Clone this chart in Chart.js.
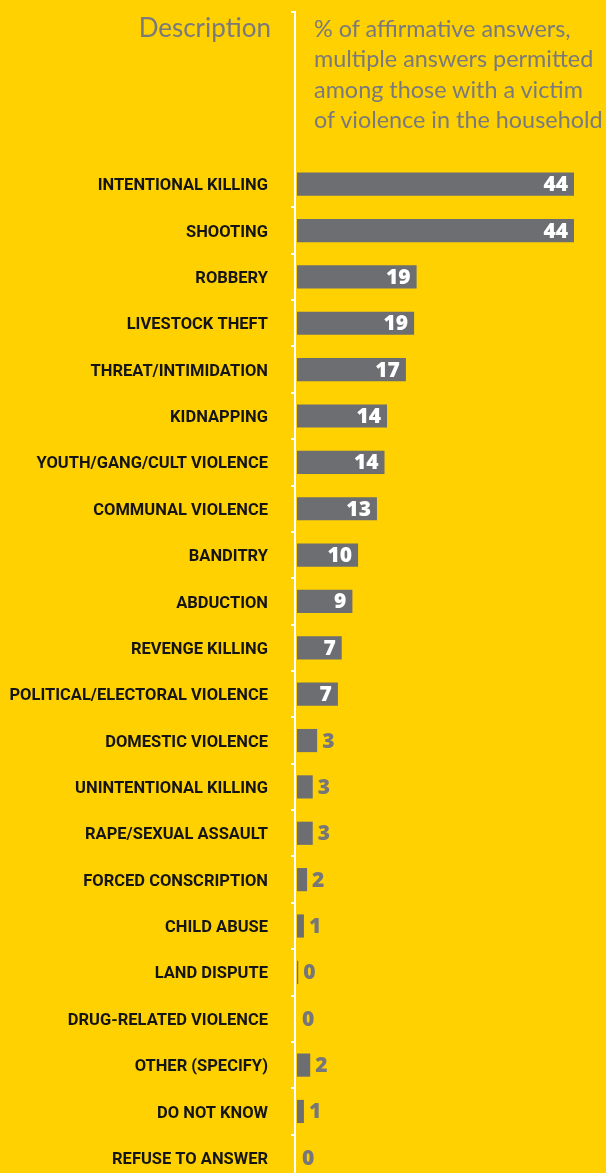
<!DOCTYPE html>
<html>
<head>
<meta charset="utf-8">
<script src="https://cdn.jsdelivr.net/npm/chart.js@4.4.1/dist/chart.umd.min.js"></script>
<style>
  html, body { margin: 0; padding: 0; background: #FFD100; overflow: hidden; }
  .wrap { position: relative; width: 606px; height: 1173px; overflow: hidden; }
  canvas { position: absolute; left: 0; top: 0; }
  .head { position: absolute; color: #7a7a7c; font-family: Lato, 'Open Sans', sans-serif; }
  #descHead { right: 335px; top: 12px; font-size: 26px; line-height: 1.2; }
  #valueHead { left: 314px; top: 13px; font-size: 23.4px; line-height: 30.3px; white-space: nowrap; }
</style>
</head>
<body>
<div class="wrap">
  <canvas id="violence-chart" width="606" height="1190" style="width:606px;height:1190px"></canvas>
  <div class="head" id="descHead">Description</div>
  <div class="head" id="valueHead">% of affirmative answers,<br>multiple answers permitted<br>among those with a victim<br>of violence in the household</div>
</div>
<script>
// Types of violence experienced (bar lengths, labels rounded)
const categories = [
    'INTENTIONAL KILLING', 'SHOOTING', 'ROBBERY', 'LIVESTOCK THEFT',
    'THREAT/INTIMIDATION', 'KIDNAPPING', 'YOUTH/GANG/CULT VIOLENCE',
    'COMMUNAL VIOLENCE', 'BANDITRY', 'ABDUCTION', 'REVENGE KILLING',
    'POLITICAL/ELECTORAL VIOLENCE', 'DOMESTIC VIOLENCE', 'UNINTENTIONAL KILLING',
    'RAPE/SEXUAL ASSAULT', 'FORCED CONSCRIPTION', 'CHILD ABUSE', 'LAND DISPUTE',
    'DRUG-RELATED VIOLENCE', 'OTHER (SPECIFY)', 'DO NOT KNOW', 'REFUSE TO ANSWER'
];
const percentValues = [44, 44, 19, 18.6, 17.3, 14.3, 13.9, 12.7, 9.7, 8.8, 7.1,
    6.5, 3.2, 2.5, 2.5, 1.6, 1.1, 0.2, 0, 2.1, 1.1, 0];
const axisMax = 44;

const barGray = '#6d6e71';
const labelGray = '#77777a';

// white axis line with small tick marks between rows
const axisLinePlugin = {
    id: 'axisLine',
    beforeDatasetsDraw(chart) {
        const ctx = chart.ctx;
        const yScale = chart.scales.y;
        const x = chart.chartArea.left - 3;
        ctx.save();
        ctx.fillStyle = '#ffffff';
        ctx.fillRect(x, 11, 2, chart.height - 11);
        ctx.fillRect(x - 3, 11, 4, 2);
        for (let i = 1; i < categories.length; i++) {
            const y = (yScale.getPixelForValue(i - 1) + yScale.getPixelForValue(i)) / 2;
            ctx.fillRect(x - 3, Math.round(y) - 1, 3, 2);
        }
        ctx.restore();
    }
};

// value labels: white inside long bars, gray outside short ones
const valueLabelPlugin = {
    id: 'valueLabels',
    afterDatasetsDraw(chart) {
        const ctx = chart.ctx;
        const meta = chart.getDatasetMeta(0);
        ctx.save();
        ctx.font = '800 21px "Open Sans", sans-serif';
        ctx.textBaseline = 'middle';
        meta.data.forEach((bar, i) => {
            const v = percentValues[i];
            const text = String(Math.round(v));
            if (v >= 5) {
                ctx.fillStyle = '#ffffff';
                ctx.textAlign = 'right';
                ctx.fillText(text, bar.x - 6, bar.y + 1);
            } else {
                ctx.fillStyle = labelGray;
                ctx.textAlign = 'left';
                ctx.fillText(text, bar.x + 5, bar.y + 1);
            }
        });
        ctx.restore();
    }
};

const violenceCtx = document.getElementById('violence-chart').getContext('2d');
const violenceChart = new Chart(violenceCtx, {
    type: 'bar',
    data: {
        labels: categories,
        datasets: [{
            data: percentValues,
            backgroundColor: barGray,
            borderWidth: 0,
            categoryPercentage: 1,
            barPercentage: 0.5
        }]
    },
    options: {
        indexAxis: 'y',
        responsive: false,
        animation: false,
        devicePixelRatio: 1,
        layout: {
            padding: { top: 161, bottom: 9, left: 0, right: 32 }
        },
        plugins: {
            legend: { display: false },
            tooltip: { enabled: false }
        },
        scales: {
            x: {
                display: false,
                min: 0,
                max: axisMax
            },
            y: {
                afterFit(scale) {
                    scale.width = 297;
                    scale.paddingTop = 0;
                    scale.paddingBottom = 0;
                },
                grid: { display: false, drawTicks: false },
                border: { display: false },
                ticks: {
                    color: '#141414',
                    padding: 29,
                    labelOffset: 2,
                    autoSkip: false,
                    font: { family: 'Roboto, "Liberation Sans", sans-serif', size: 16.5, weight: 'bold' }
                }
            }
        }
    },
    plugins: [axisLinePlugin, valueLabelPlugin]
});
</script>
</body>
</html>
